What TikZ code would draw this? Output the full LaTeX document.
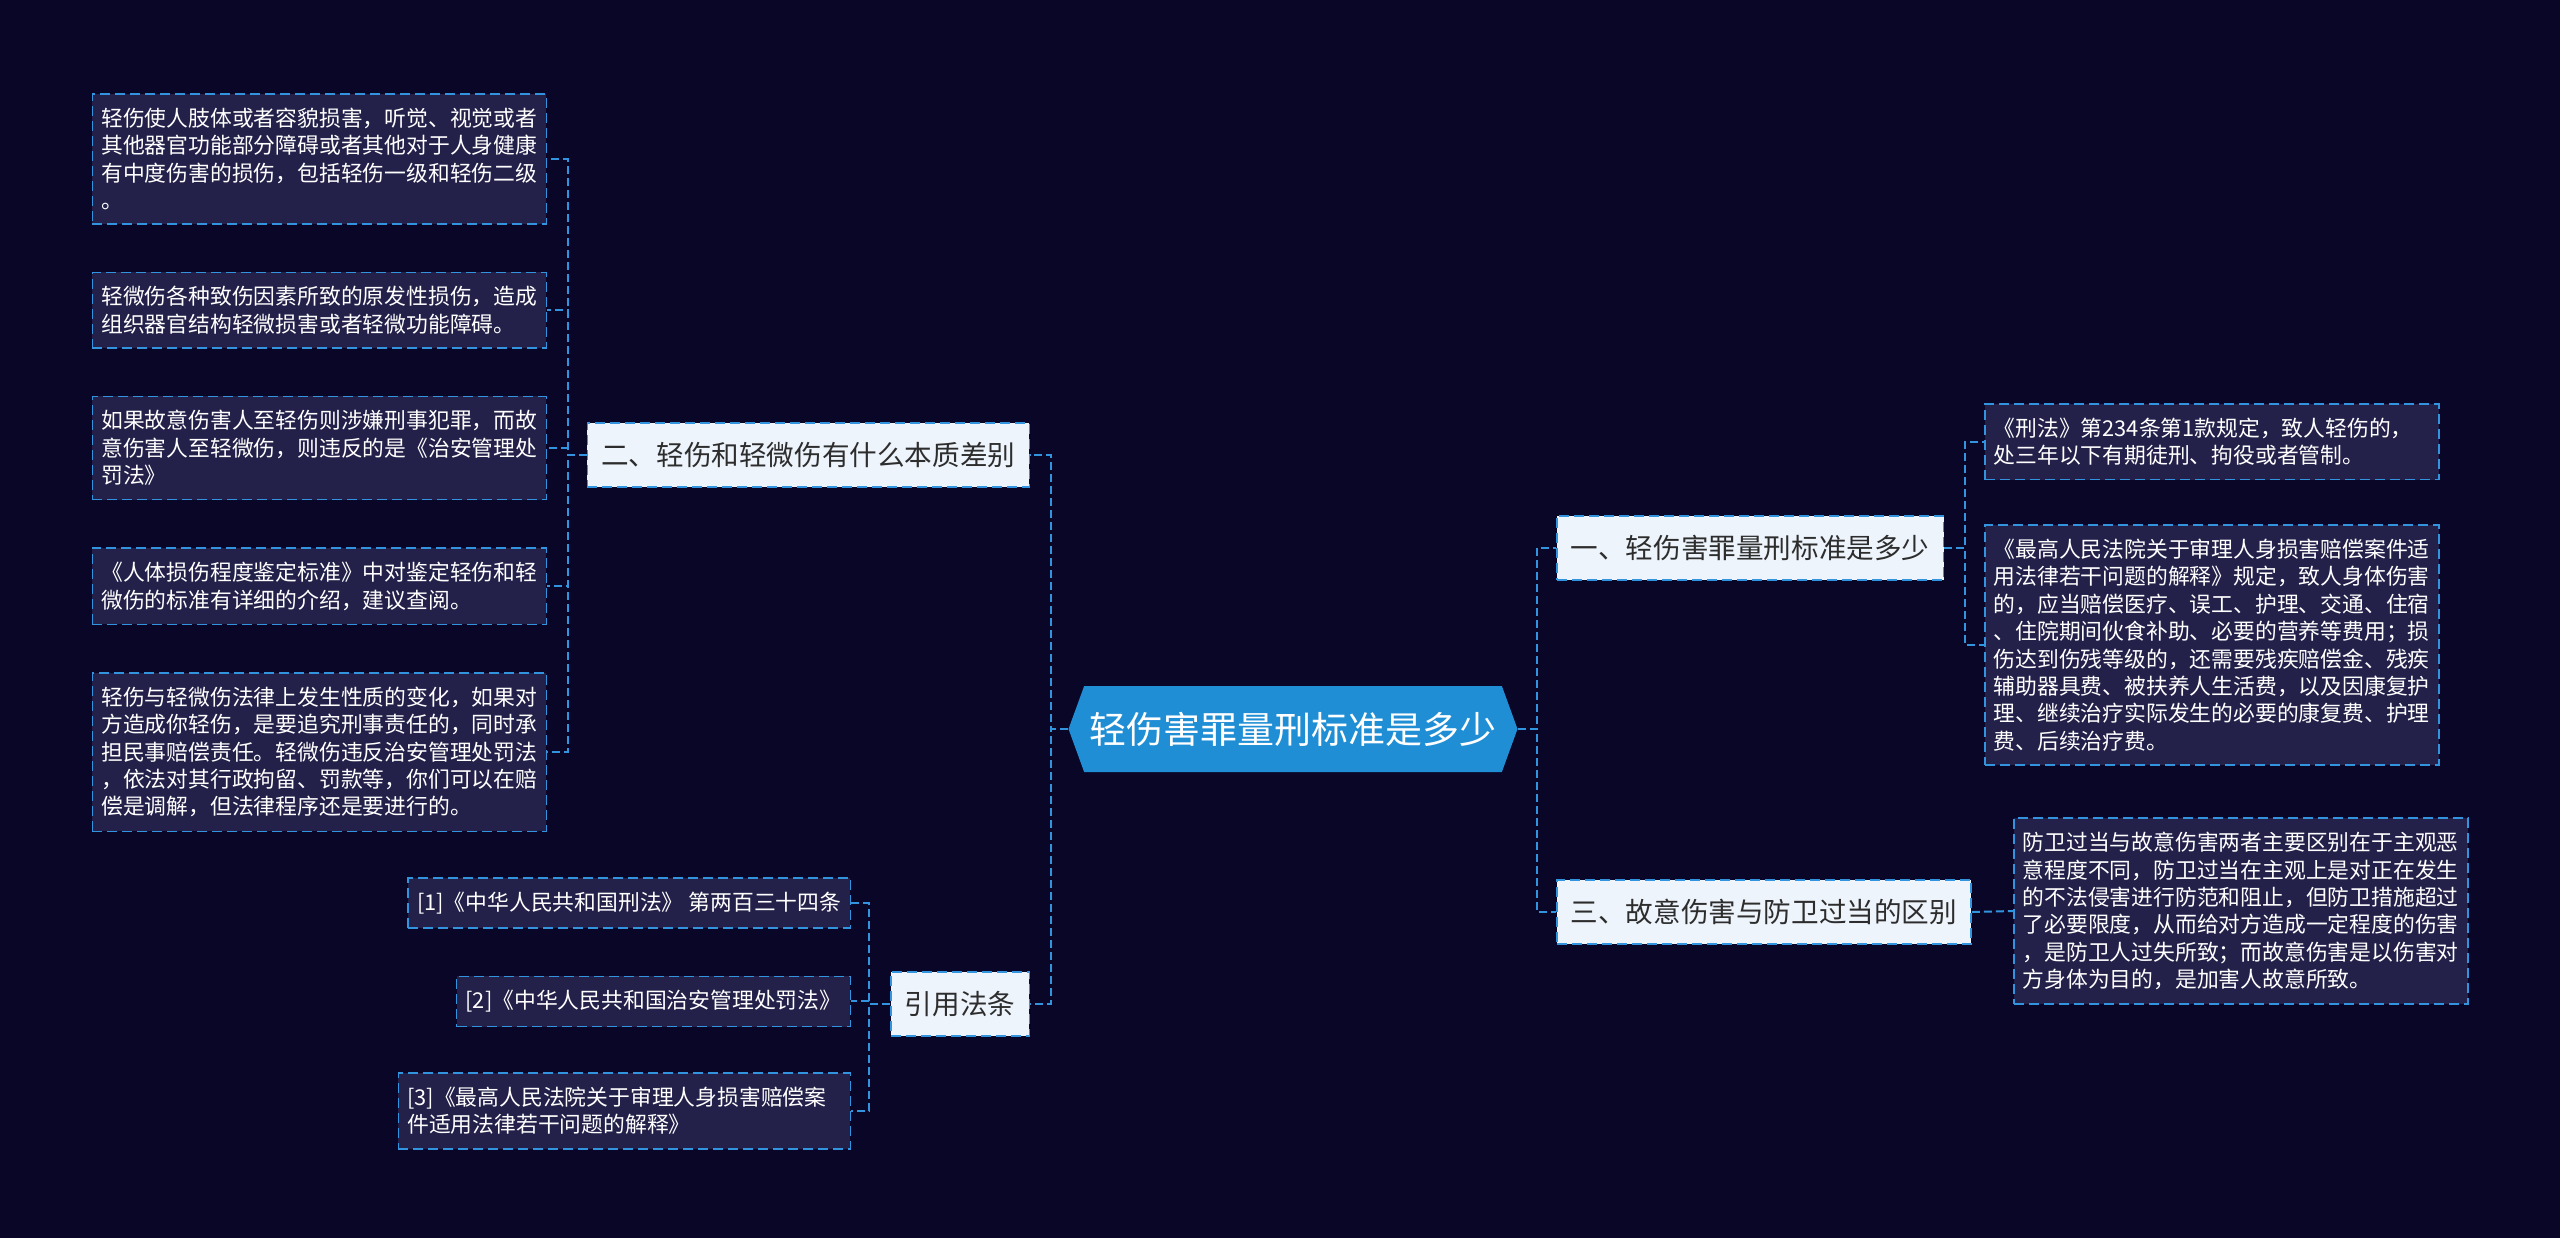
\documentclass[tikz,border=0pt]{standalone}
\usepackage{fontspec}
\setmainfont{Noto Sans CJK SC}
\usetikzlibrary{shapes.symbols, positioning}
\definecolor{bgnavy}{RGB}{10,6,40}
\definecolor{notefill}{RGB}{35,33,74}
\definecolor{linkblue}{RGB}{50,148,222}
\definecolor{rootblue}{RGB}{31,142,212}
\definecolor{topicfill}{RGB}{238,244,252}
\definecolor{topictext}{RGB}{45,45,45}

\begin{document}
\begin{tikzpicture}[
    x=0.5pt, y=-0.5pt,
    root/.style = {signal, signal to=west and east, signal pointer angle=140, fill=rootblue, text=white, minimum width=224.5pt, minimum height=43pt, inner xsep=0pt, font=\fontsize{18.5}{22}\selectfont},
    topic/.style = {rectangle, draw=linkblue, line width=0.75pt, dash pattern=on 5pt off 2.5pt, fill=topicfill, text=topictext, minimum height=32pt, inner xsep=7pt, font=\fontsize{13.8}{16}\selectfont},
    leaf/.style = {rectangle, draw=linkblue, line width=0.75pt, dash pattern=on 5pt off 2.5pt, fill=notefill, text=white, align=left, inner xsep=4.5pt, inner ysep=7pt, font=\fontsize{10.9}{13.7}\selectfont},
    note/.style = {leaf, text width=218pt},
    link/.style = {draw=linkblue, line width=1pt, dash pattern=on 4pt off 2pt}]

    \fill[bgnavy] (0,0) rectangle (2560,1238);

    \node[root] (root) at (1293,729) {轻伤害罪量刑标准是多少};

    \node[topic, anchor=east] (diff) at (1030,455) {二、轻伤和轻微伤有什么本质差别};
    \node[topic, anchor=east] (laws) at (1030,1004) {引用法条};
    \node[topic, anchor=west] (sentence) at (1556,548) {一、轻伤害罪量刑标准是多少};
    \node[topic, anchor=west] (defence) at (1556,912) {三、故意伤害与防卫过当的区别};

    \node[note, anchor=north east] (d1) at (547,93) {轻伤使人肢体或者容貌损害，听觉、视觉或者\\其他器官功能部分障碍或者其他对于人身健康\\有中度伤害的损伤，包括轻伤一级和轻伤二级\\。};
    \node[note, below=23.5pt of d1] (d2) {轻微伤各种致伤因素所致的原发性损伤，造成\\组织器官结构轻微损害或者轻微功能障碍。};
    \node[note, below=23.5pt of d2] (d3) {如果故意伤害人至轻伤则涉嫌刑事犯罪，而故\\意伤害人至轻微伤，则违反的是《治安管理处\\罚法》};
    \node[note, below=23.5pt of d3] (d4) {《人体损伤程度鉴定标准》中对鉴定轻伤和轻\\微伤的标准有详细的介绍，建议查阅。};
    \node[note, below=23.5pt of d4] (d5) {轻伤与轻微伤法律上发生性质的变化，如果对\\方造成你轻伤，是要追究刑事责任的，同时承\\担民事赔偿责任。轻微伤违反治安管理处罚法\\，依法对其行政拘留、罚款等，你们可以在赔\\偿是调解，但法律程序还是要进行的。};

    \node[leaf, anchor=north east] (c1) at (851,877) {[1]《中华人民共和国刑法》 第两百三十四条};
    \node[leaf, below=23.5pt of c1.south east, anchor=north east] (c2) {[2]《中华人民共和国治安管理处罚法》};
    \node[leaf, text width=217pt, below=22.5pt of c2.south east, anchor=north east] (c3) {[3]《最高人民法院关于审理人身损害赔偿案\\件适用法律若干问题的解释》};

    \node[note, anchor=north west] (s1) at (1984,403) {《刑法》第234条第1款规定，致人轻伤的，\\处三年以下有期徒刑、拘役或者管制。};
    \node[note, below=22pt of s1] (s2) {《最高人民法院关于审理人身损害赔偿案件适\\用法律若干问题的解释》规定，致人身体伤害\\的，应当赔偿医疗、误工、护理、交通、住宿\\、住院期间伙食补助、必要的营养等费用；损\\伤达到伤残等级的，还需要残疾赔偿金、残疾\\辅助器具费、被扶养人生活费，以及因康复护\\理、继续治疗实际发生的必要的康复费、护理\\费、后续治疗费。};
    \node[note, anchor=west] (f1) at (2013,911) {防卫过当与故意伤害两者主要区别在于主观恶\\意程度不同，防卫过当在主观上是对正在发生\\的不法侵害进行防范和阻止，但防卫措施超过\\了必要限度，从而给对方造成一定程度的伤害\\，是防卫人过失所致；而故意伤害是以伤害对\\方身体为目的，是加害人故意所致。};

    \draw[link] (root.west) -- ++(-17,0) |- (diff.east);
    \draw[link] (root.west) -- ++(-17,0) |- (laws.east);
    \draw[link] (root.east) -- ++(19,0) |- (sentence.west);
    \draw[link] (root.east) -- ++(19,0) |- (defence.west);
    \foreach \n in {d1,d2,d3,d4,d5}
        \draw[link] (diff.west) -- ++(-19,0) |- (\n.east);
    \foreach \n in {c1,c2,c3}
        \draw[link] (laws.west) -- ++(-21,0) |- (\n.east);
    \foreach \n in {s1,s2}
        \draw[link] (sentence.east) -- ++(21,0) |- (\n.west);
    \draw[link] (defence.east) -- (f1.west);
\end{tikzpicture}
\end{document}
